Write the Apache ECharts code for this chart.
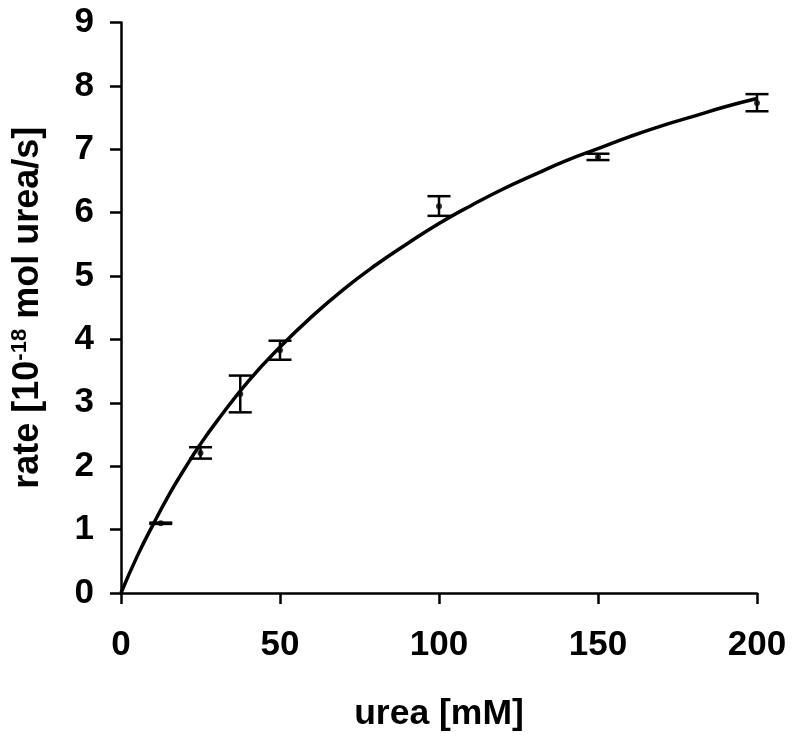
<!DOCTYPE html>
<html>
<head>
<meta charset="utf-8">
<script src="https://cdn.jsdelivr.net/npm/echarts@6/dist/echarts.min.js"></script>
<style>html,body{margin:0;padding:0;background:#fff}#c{width:800px;height:737px}</style>
</head>
<body>
<div id="c"></div>
<script>
// measured data (urea concentration, mean rate, lower and upper error bounds)
var ureaMM = [12.5, 25, 37.5, 50, 100, 150, 200];
var rateMean = [1.10, 2.21, 3.14, 3.83, 6.10, 6.88, 7.73];
var rateLow = [1.09, 2.12, 2.85, 3.68, 5.95, 6.83, 7.60];
var rateHigh = [1.11, 2.30, 3.43, 3.98, 6.26, 6.93, 7.87];
// fitted curve
var curveX = [0, 5, 10, 15, 20, 25, 30, 40, 50, 60, 70, 80, 90, 100, 110, 120, 130, 140, 150, 160, 170, 180, 190, 200];
var curveY = [0, 0.57, 1.07, 1.54, 1.96, 2.35, 2.70, 3.34, 3.88, 4.36, 4.79, 5.17, 5.51, 5.83, 6.11, 6.37, 6.60, 6.82, 7.01, 7.20, 7.37, 7.52, 7.67, 7.80];
var xTicks = [0, 50, 100, 150, 200];
var yTicks = [0, 1, 2, 3, 4, 5, 6, 7, 8, 9];

var chart = echarts.init(document.getElementById('c'));
var font = 'Liberation Sans, Arial, sans-serif';
var curve = curveX.map(function (x, i) { return [x, curveY[i]]; });
var pts = ureaMM.map(function (x, i) { return [x, rateMean[i]]; });
var errs = ureaMM.map(function (x, i) { return [x, rateLow[i], rateHigh[i]]; });

chart.setOption({
  animation: false,
  backgroundColor: '#ffffff',
  grid: { left: 121, right: 43, top: 22.5, bottom: 143, containLabel: false },
  xAxis: {
    type: 'value', min: 0, max: 200, interval: 50,
    name: 'urea [mM]', nameLocation: 'middle', nameGap: 103,
    nameTextStyle: { fontFamily: font, fontWeight: 'bold', fontSize: 35.5, color: '#000' },
    axisLine: { show: true, lineStyle: { color: '#000', width: 2.5 } },
    axisTick: { show: true, inside: false, length: 11, lineStyle: { color: '#000', width: 2.5 } },
    axisLabel: { margin: 35, fontFamily: font, fontWeight: 'bold', fontSize: 35, color: '#000',
      formatter: function (v) { return xTicks.indexOf(v) >= 0 ? String(v) : ''; } },
    splitLine: { show: false }
  },
  yAxis: {
    type: 'value', min: 0, max: 9, interval: 1,
    name: '{n|rate [10}{s|-18}{n| mol urea/s]}', nameLocation: 'middle', nameGap: 74,
    nameTextStyle: { fontFamily: font, fontWeight: 'bold', fontSize: 36, color: '#000',
      rich: {
        n: { fontFamily: font, fontWeight: 'bold', fontSize: 36, color: '#000' },
        s: { fontFamily: font, fontWeight: 'bold', fontSize: 22, color: '#000', verticalAlign: 'top', padding: [0, 0, 16, 0] }
      } },
    axisLine: { show: true, lineStyle: { color: '#000', width: 2.5 } },
    axisTick: { show: true, inside: false, length: 11, lineStyle: { color: '#000', width: 2.5 } },
    axisLabel: { margin: 27, fontFamily: font, fontWeight: 'bold', fontSize: 35, color: '#000',
      formatter: function (v) { return yTicks.indexOf(v) >= 0 ? String(v) : ''; } },
    splitLine: { show: false }
  },
  series: [
    {
      type: 'line', data: curve, smooth: true, showSymbol: false, symbol: 'none',
      lineStyle: { color: '#000', width: 3.5 }, z: 3
    },
    {
      type: 'custom', data: errs, z: 4,
      renderItem: function (params, api) {
        var x = api.value(0);
        var lo = api.coord([x, api.value(1)]);
        var hi = api.coord([x, api.value(2)]);
        var hw = 11.5;
        var st = { stroke: '#000', lineWidth: 2.5 };
        return { type: 'group', children: [
          { type: 'line', shape: { x1: lo[0], y1: lo[1], x2: hi[0], y2: hi[1] }, style: st },
          { type: 'line', shape: { x1: lo[0] - hw, y1: lo[1], x2: lo[0] + hw, y2: lo[1] }, style: st },
          { type: 'line', shape: { x1: hi[0] - hw, y1: hi[1], x2: hi[0] + hw, y2: hi[1] }, style: st }
        ] };
      }
    },
    {
      type: 'scatter', data: pts, symbol: 'circle', symbolSize: 6, z: 5,
      itemStyle: { color: '#000' }
    }
  ]
});
</script>
</body>
</html>
